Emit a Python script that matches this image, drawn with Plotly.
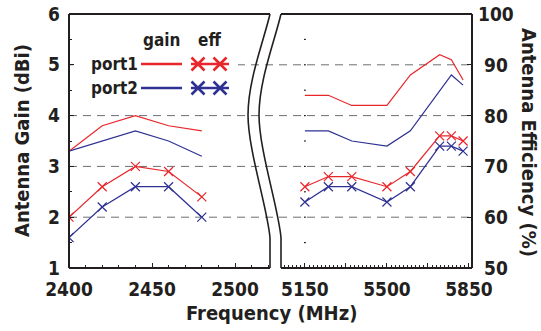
import plotly.graph_objects as go

# ---- figure size and pixel helpers -------------------------------------
W, H = 541, 331


def px_x(p):
    return p / W


def px_y(p):
    return 1 - p / H


# ---- measured data ------------------------------------------------------
# 2.4 GHz band
freq_24 = [2400, 2420, 2440, 2460, 2480]
gain_p1_24 = [3.3, 3.8, 4.0, 3.8, 3.7]
gain_p2_24 = [3.3, 3.5, 3.7, 3.5, 3.2]
eff_p1_24 = [60, 66, 70, 69, 64]
eff_p2_24 = [56, 62, 66, 66, 60]

# 5 GHz band
freq_5 = [5150, 5250, 5350, 5500, 5600, 5725, 5775, 5825]
gain_p1_5 = [4.4, 4.4, 4.2, 4.2, 4.8, 5.2, 5.1, 4.7]
gain_p2_5 = [3.7, 3.7, 3.5, 3.4, 3.7, 4.5, 4.8, 4.6]
eff_p1_5 = [66, 68, 68, 66, 69, 76, 76, 75]
eff_p2_5 = [63, 66, 66, 63, 66, 74, 74, 73]

# ---- axis ticks ---------------------------------------------------------
gain_ticks = [1, 2, 3, 4, 5, 6]
eff_ticks = [50, 60, 70, 80, 90, 100]
grid_gain = [2, 3, 4, 5]
x_ticks_24 = [2400, 2450, 2500]
x_ticks_5 = [5150, 5325, 5500, 5675, 5850]
x_labels_5 = ["5150", "", "5500", "", "5850"]
band5_marks = [1.5, 2, 2.5, 3, 3.5, 4, 4.5, 5, 5.5]

# ---- style ----------------------------------------------------------------
RED = "#e8262b"
BLUE = "#2e3192"
INK = "#231f20"
GRID = "#6d6e71"
FONT = "DejaVu Sans Condensed, DejaVu Sans, sans-serif"

# plot frame in pixels
L, R, T, B = 69, 472, 14, 268
LEFT_END, RIGHT_START = 270, 281

fig = go.Figure()

data_line = dict(width=1.2)


def eff_marker(color):
    return dict(color=color, symbol="x-thin", size=9, line=dict(color=color, width=1.2))


for color, g24, e24, g5, e5 in [
    (RED, gain_p1_24, eff_p1_24, gain_p1_5, eff_p1_5),
    (BLUE, gain_p2_24, eff_p2_24, gain_p2_5, eff_p2_5),
]:
    fig.add_trace(go.Scatter(x=freq_24, y=g24, xaxis="x", yaxis="y", mode="lines",
                             line=dict(color=color, **data_line)))
    fig.add_trace(go.Scatter(x=freq_24, y=e24, xaxis="x", yaxis="y3", mode="lines+markers",
                             line=dict(color=color, **data_line), marker=eff_marker(color)))
    fig.add_trace(go.Scatter(x=freq_5, y=g5, xaxis="x2", yaxis="y", mode="lines",
                             line=dict(color=color, **data_line)))
    fig.add_trace(go.Scatter(x=freq_5, y=e5, xaxis="x2", yaxis="y2", mode="lines+markers",
                             line=dict(color=color, **data_line), marker=eff_marker(color)))

# ---- legend keys drawn on a pixel-unit overlay ------------------------------
legend_rows = [("port1", RED, 64), ("port2", BLUE, 88)]
for name, color, ry in legend_rows:
    fig.add_trace(go.Scatter(x=[141, 182], y=[ry, ry], xaxis="x3", yaxis="y4", mode="lines",
                             line=dict(color=color, width=2.5)))
    fig.add_trace(go.Scatter(x=[191, 229], y=[ry, ry], xaxis="x3", yaxis="y4", mode="lines",
                             line=dict(color=color, width=2.5)))
    fig.add_trace(go.Scatter(x=[198, 220], y=[ry, ry], xaxis="x3", yaxis="y4", mode="markers",
                             marker=dict(symbol="x-thin", size=13, color=color,
                                         line=dict(color=color, width=2.6))))

tick_font = dict(family=FONT, size=19, color=INK, weight="bold")
title_font = dict(family=FONT, size=20, color=INK, weight="bold")
legend_font = dict(family=FONT, size=17, color=INK, weight="bold")

y_dom = [px_y(B), px_y(T)]

common = dict(showgrid=False, zeroline=False, showline=False, automargin=False)

fig.update_layout(
    width=W, height=H,
    margin=dict(l=0, r=0, t=0, b=0, autoexpand=False),
    paper_bgcolor="white", plot_bgcolor="rgba(0,0,0,0)",
    showlegend=False,
    xaxis=dict(domain=[px_x(L), px_x(LEFT_END)], range=[2400, 2400 + (LEFT_END - L) / 1.66],
               anchor="y", tickmode="array", tickvals=x_ticks_24,
               ticks="inside", ticklen=5, tickwidth=1, tickcolor=INK,
               minor=dict(tick0=2400, dtick=10, ticks="inside", ticklen=3, tickcolor=INK),
               tickfont=tick_font, ticklabelstandoff=8, **common),
    xaxis2=dict(domain=[px_x(RIGHT_START), px_x(R)], range=[5048, 5863],
                anchor="y", tickmode="array", tickvals=x_ticks_5, ticktext=x_labels_5,
                ticks="inside", ticklen=5, tickwidth=1, tickcolor=INK,
                minor=dict(tick0=5150, dtick=17.5, ticks="inside", ticklen=3, tickcolor=INK),
                tickfont=tick_font, ticklabelstandoff=8, **common),
    yaxis=dict(domain=y_dom, range=[1, 6], anchor="x", tickmode="array", tickvals=gain_ticks,
               ticks="inside", ticklen=5, tickcolor=INK,
               minor=dict(dtick=0.5, tick0=1, ticks="inside", ticklen=3, tickcolor=INK),
               tickfont=tick_font, ticklabelstandoff=8, **common),
    # efficiency axis: ticks from the axis, labels centred as annotations below
    yaxis2=dict(range=[50, 100], anchor="x2", overlaying="y", side="right",
                tickmode="array", tickvals=eff_ticks, ticks="inside", ticklen=5, tickcolor=INK,
                showticklabels=False, **common),
    yaxis3=dict(range=[50, 100], anchor="x", overlaying="y", visible=False, **common),
    xaxis3=dict(domain=[0, 1], range=[0, W], anchor="y4", visible=False, **common),
    yaxis4=dict(domain=[0, 1], range=[H, 0], anchor="x3", visible=False, **common),
)

shapes = []
# dashed grid across both panels
for g in grid_gain:
    shapes.append(dict(type="line", xref="paper", yref="y", x0=px_x(L), x1=px_x(R), y0=g, y1=g,
                       line=dict(color=GRID, width=1, dash="8px,6px"), layer="below"))
# legend backdrop
shapes.append(dict(type="rect", xref="paper", yref="paper", x0=px_x(73), x1=px_x(238),
                   y0=px_y(100), y1=px_y(25), fillcolor="white", line=dict(width=0), layer="below"))

frame = dict(color=INK, width=2)
# panel frames (open on the break side)
for (x0, y0, x1, y1) in [(L, T, LEFT_END, T), (L, B, LEFT_END, B), (L, T, L, B),
                         (RIGHT_START, T, R, T), (RIGHT_START, B, R, B), (R, T, R, B)]:
    shapes.append(dict(type="line", xref="paper", yref="paper",
                       x0=px_x(x0), y0=px_y(y0), x1=px_x(x1), y1=px_y(y1), line=frame))


# axis break: two S-shaped strokes
def break_path(dx):
    pts = [(270 + dx, 14), (264 + dx, 40), (248 + dx, 80), (248 + dx, 115),
           (248 + dx, 150), (268 + dx, 210), (270 + dx, 238), (270 + dx, 268)]
    p = [(px_x(a), px_y(b)) for a, b in pts]
    return (f"M {p[0][0]},{p[0][1]} C {p[1][0]},{p[1][1]} {p[2][0]},{p[2][1]} {p[3][0]},{p[3][1]} "
            f"C {p[4][0]},{p[4][1]} {p[5][0]},{p[5][1]} {p[6][0]},{p[6][1]} L {p[7][0]},{p[7][1]}")


for dx in (0, 11):
    shapes.append(dict(type="path", xref="paper", yref="paper", path=break_path(dx),
                       line=dict(color=INK, width=1.6)))

# small level marks on the 5 GHz panel
for v in band5_marks:
    shapes.append(dict(type="line", xref="x2", yref="y", x0=5146, x1=5154, y0=v, y1=v,
                       line=dict(color=INK, width=1.2)))

fig.update_layout(shapes=shapes)

annotations = [
    dict(text="Frequency (MHz)", x=px_x(271), y=px_y(313), xref="paper", yref="paper",
         showarrow=False, font=title_font, xanchor="center", yanchor="middle"),
    dict(text="Antenna Gain (dBi)", x=px_x(22), y=px_y(141), xref="paper", yref="paper",
         showarrow=False, font=title_font, textangle=-90, xanchor="center", yanchor="middle"),
    dict(text="Antenna Efficiency (%)", x=px_x(529), y=px_y(142), xref="paper", yref="paper",
         showarrow=False, font=title_font, textangle=90, xanchor="center", yanchor="middle"),
    dict(text="gain", x=px_x(161), y=px_y(40), xref="paper", yref="paper",
         showarrow=False, font=legend_font, xanchor="center", yanchor="middle"),
    dict(text="eff", x=px_x(210), y=px_y(40), xref="paper", yref="paper",
         showarrow=False, font=legend_font, xanchor="center", yanchor="middle"),
]
for name, color, ry in legend_rows:
    annotations.append(dict(text=name, x=px_x(140), y=px_y(ry), xref="paper", yref="paper",
                            showarrow=False, font=legend_font, xanchor="right", yanchor="middle"))
# centred efficiency tick labels
for v in eff_ticks:
    annotations.append(dict(text=str(v), x=px_x(496), y=v, xref="paper", yref="y2",
                            showarrow=False, font=tick_font, xanchor="center", yanchor="middle"))
fig.update_layout(annotations=annotations)

fig.write_html("out.html")
